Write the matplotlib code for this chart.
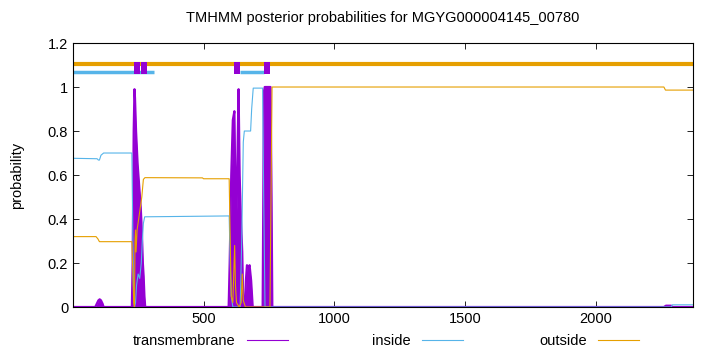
import matplotlib
matplotlib.use("Agg")
import matplotlib.pyplot as plt
from matplotlib.lines import Line2D

plt.rcParams['font.family'] = ['Liberation Sans', 'DejaVu Sans']
plt.rcParams['font.size'] = 10.5

# posterior probabilities (residue, probability)
tm_pos = [1, 86, 92, 98, 103, 108, 114, 118, 226, 229, 233, 236, 238, 242, 248, 254, 260, 264,
          268, 271, 274, 277, 596, 600, 606, 612, 618, 622, 626, 630, 634, 638, 643,
          648, 652, 658, 662, 666, 672, 676, 682, 688, 726, 731, 734, 756, 760, 763,
          2260, 2268, 2288, 2292, 2371]
tm_prob = [0, 0, 0.015, 0.03, 0.035, 0.03, 0.015, 0, 0, 0.2, 0.8, 0.99, 0.95, 0.8, 0.65, 0.55, 0.45, 0.35,
           0.2, 0.14, 0.05, 0, 0, 0.2, 0.6, 0.85, 0.89, 0.5, 0.4, 0.7, 0.99, 0.6, 0.4,
           0.25, 0, 0, 0.12, 0.19, 0.18, 0.19, 0.12, 0, 0, 0.98, 1.0, 1.0, 0.5, 0,
           0, 0.006, 0.006, 0, 0]

in_pos = [1, 93, 98, 102, 108, 118, 226, 229, 232, 236, 240, 244, 250, 256, 262, 266,
          270, 275, 598, 602, 606, 612, 640, 646, 652, 656, 680, 684, 690, 726, 730,
          735, 2288, 2292, 2371]
in_prob = [0.676, 0.674, 0.668, 0.668, 0.69, 0.70, 0.70, 0.4, 0.1, 0.0, 0.02, 0.1, 0.15,
           0.13, 0.2, 0.3, 0.38, 0.41, 0.414, 0.2, 0.05, 0, 0, 0.3, 0.75, 0.80, 0.80,
           0.9, 0.995, 0.995, 0.5, 0, 0, 0.01, 0.01]

out_pos = [1, 89, 96, 102, 226, 230, 233, 236, 238, 240, 242, 246, 252, 258, 264, 270,
           276, 496, 500, 598, 602, 606, 612, 619, 622, 626, 636, 644, 648, 652, 660,
           754, 758, 762, 2260, 2266, 2371]
out_prob = [0.32, 0.32, 0.31, 0.297, 0.297, 0.15, 0.02, 0, 0.3, 0.35, 0.25, 0.35, 0.4,
            0.45, 0.5, 0.58, 0.588, 0.587, 0.583, 0.583, 0.3, 0.05, 0.02, 0.28, 0.1,
            0.02, 0, 0.02, 0.15, 0.03, 0, 0, 0.5, 1.0, 1.0, 0.986, 0.986]

# predicted topology segments (start, end)
tm_segments = [(234, 257), (260, 283), (618, 641), (732, 755)]
inside_segments = [(1, 310), (641, 732)]
outside_segments = [(1, 2371)]

seq_len = 2371
purple = '#9400D3'
blue = '#56B4E9'
orange = '#E69F00'

fig = plt.figure(figsize=(7.2, 3.52), dpi=100)
ax = fig.add_axes([0.1014, 0.1278, 0.861, 0.75])

# posterior curves
ax.fill_between(tm_pos, tm_prob, 0, color=purple, lw=0)
ax.plot(tm_pos, tm_prob, color=purple, lw=1.6)
ax.plot(in_pos, in_prob, color=blue, lw=0.8)
ax.plot(out_pos, out_prob, color=orange, lw=0.8)

# topology bars at the top
for s, e in outside_segments:
    ax.plot([s, e], [1.105, 1.105], color=orange, lw=3, solid_capstyle='butt')
for s, e in inside_segments:
    ax.plot([s, e], [1.068, 1.068], color=blue, lw=2.5, solid_capstyle='butt')
for s, e in tm_segments:
    ax.bar(s, 0.056, width=e - s, bottom=1.058, align='edge', color=purple, lw=0, zorder=3)

ax.set_xlim(1, seq_len)
ax.set_ylim(0, 1.2)
ax.set_xticks([500, 1000, 1500, 2000])
ax.set_yticks([0, 0.2, 0.4, 0.6, 0.8, 1.0, 1.2])
ax.set_yticklabels(['0', '0.2', '0.4', '0.6', '0.8', '1', '1.2'])
ax.tick_params(direction='in', top=True, right=True, length=4, width=0.6)
for sp in ax.spines.values():
    sp.set_linewidth(0.8)

ax.set_ylabel('probability', labelpad=17)
ax.set_title('TMHMM posterior probabilities for MGYG000004145_00780', fontsize=10.5, pad=15)

# gnuplot-style key: one entry per column, text right-aligned before the sample line
key_labels = ['transmembrane', 'inside', 'outside']
key_colors = [purple, blue, orange]
key_right = [0.400, 0.643, 0.8875]
for lab, col, xr in zip(key_labels, key_colors, key_right):
    fig.legend([Line2D([], [], color=col, lw=0.8)], [lab], markerfirst=False,
               loc='center right', bbox_to_anchor=(xr, 0.031), frameon=False,
               borderpad=0, borderaxespad=0, handlelength=2.8, handletextpad=0.8)

fig.savefig('out.png', dpi=100)
